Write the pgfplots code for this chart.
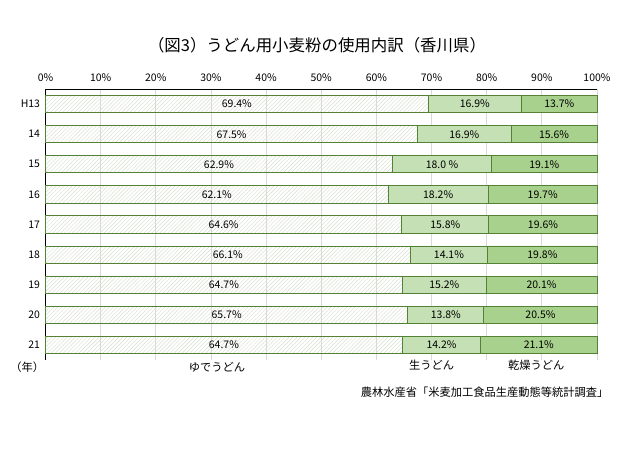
\documentclass[border=0pt]{standalone}
\usepackage{fontspec}
\setmainfont{Noto Sans CJK JP}
\usepackage{pgfplots}
\pgfplotsset{compat=1.18}
\usepackage{pgfplotstable}
\usetikzlibrary{patterns.meta}
\definecolor{bord}{HTML}{548235}
\definecolor{hatchc}{HTML}{D6DECB}
\definecolor{namac}{HTML}{C5E0B4}
\definecolor{kansoc}{HTML}{A9D18E}
\definecolor{gridc}{HTML}{D9D9D9}

\pgfplotstableread{
i yude nama kanso nl
0 69.4 16.9 13.7 16.9
1 67.5 16.9 15.6 16.9
2 62.9 18.0 19.1 18.0\space
3 62.1 18.2 19.7 18.2
4 64.6 15.8 19.6 15.8
5 66.1 14.1 19.8 14.1
6 64.7 15.2 20.1 15.2
7 65.7 13.8 20.5 13.8
8 64.7 14.2 21.1 14.2
}\data

\pgfplotsset{
  common/.style={
    at={(45.5bp,100bp)}, anchor=south west,
    width=551.5bp, height=271bp, scale only axis,
    xmin=0, xmax=100, ymin=-0.5, ymax=8.5, y dir=reverse,
  }
}

\begin{document}
\begin{tikzpicture}
\path[use as bounding box] (0,0) rectangle (640bp,460bp);
\node[font=\fontsize{16.5}{18}\selectfont] at (317bp,415bp) {（図3）うどん用小麦粉の使用内訳（香川県）};
\node[font=\fontsize{11.3}{13}\selectfont, anchor=east] at (612bp,68bp) {農林水産省「米麦加工食品生産動態等統計調査」};
\begin{axis}[
  common,
  xbar stacked, bar width=0.575,
  axis x line*=top, axis y line*=left,
  axis line style={black,-,line width=0.9bp},
  xtick={0,10,...,100},
  xticklabel={\pgfmathprintnumber{\tick}\%},
  ytick={0,...,8},
  yticklabels={H13,14,15,16,17,18,19,20,21},
  major tick length=0pt,
  xmajorgrids, grid style={gridc,line width=0.8bp},
  /pgf/number format/assume math mode=true,
  tick label style={font=\fontsize{10.5}{12}\selectfont},
  xticklabel style={yshift=4bp},
  yticklabel style={xshift=-2bp},
  clip=false,
]
\addplot[draw=bord, line width=0.9bp, pattern={Lines[angle=45,distance=2.8bp,line width=0.45bp]}, pattern color=hatchc]
  table[x=yude,y=i] {\data};
\addplot[draw=bord, line width=0.9bp, fill=namac]
  table[x=nama,y=i] {\data};
\addplot[draw=bord, line width=0.9bp, fill=kansoc]
  table[x=kanso,y=i] {\data};
\node[font=\fontsize{11.3}{13}\selectfont] at (axis cs:31.1,8.5) [yshift=-7bp] {ゆでうどん};
\node[font=\fontsize{11.3}{13}\selectfont] at (axis cs:70.0,8.5) [yshift=-5bp] {生うどん};
\node[font=\fontsize{11.3}{13}\selectfont] at (axis cs:89.0,8.5) [yshift=-5bp] {乾燥うどん};
\node[font=\fontsize{11.3}{13}\selectfont] at (axis cs:-3.3,8.5) [yshift=-7bp] {（年）};
\end{axis}
\begin{axis}[
  common, hide axis, clip=false,
  point meta=explicit symbolic,
  nodes near coords={\pgfplotspointmeta\%},
  every node near coord/.style={anchor=center, font=\fontsize{10.5}{12}\selectfont, text=black, inner sep=0pt},
]
\addplot[draw=none, mark=none] table[x expr=\thisrow{yude}/2, y=i, meta=yude] {\data};
\addplot[draw=none, mark=none] table[x expr=\thisrow{yude}+\thisrow{nama}/2, y=i, meta=nl] {\data};
\addplot[draw=none, mark=none] table[x expr=\thisrow{yude}+\thisrow{nama}+\thisrow{kanso}/2, y=i, meta=kanso] {\data};
\end{axis}
\end{tikzpicture}
\end{document}
